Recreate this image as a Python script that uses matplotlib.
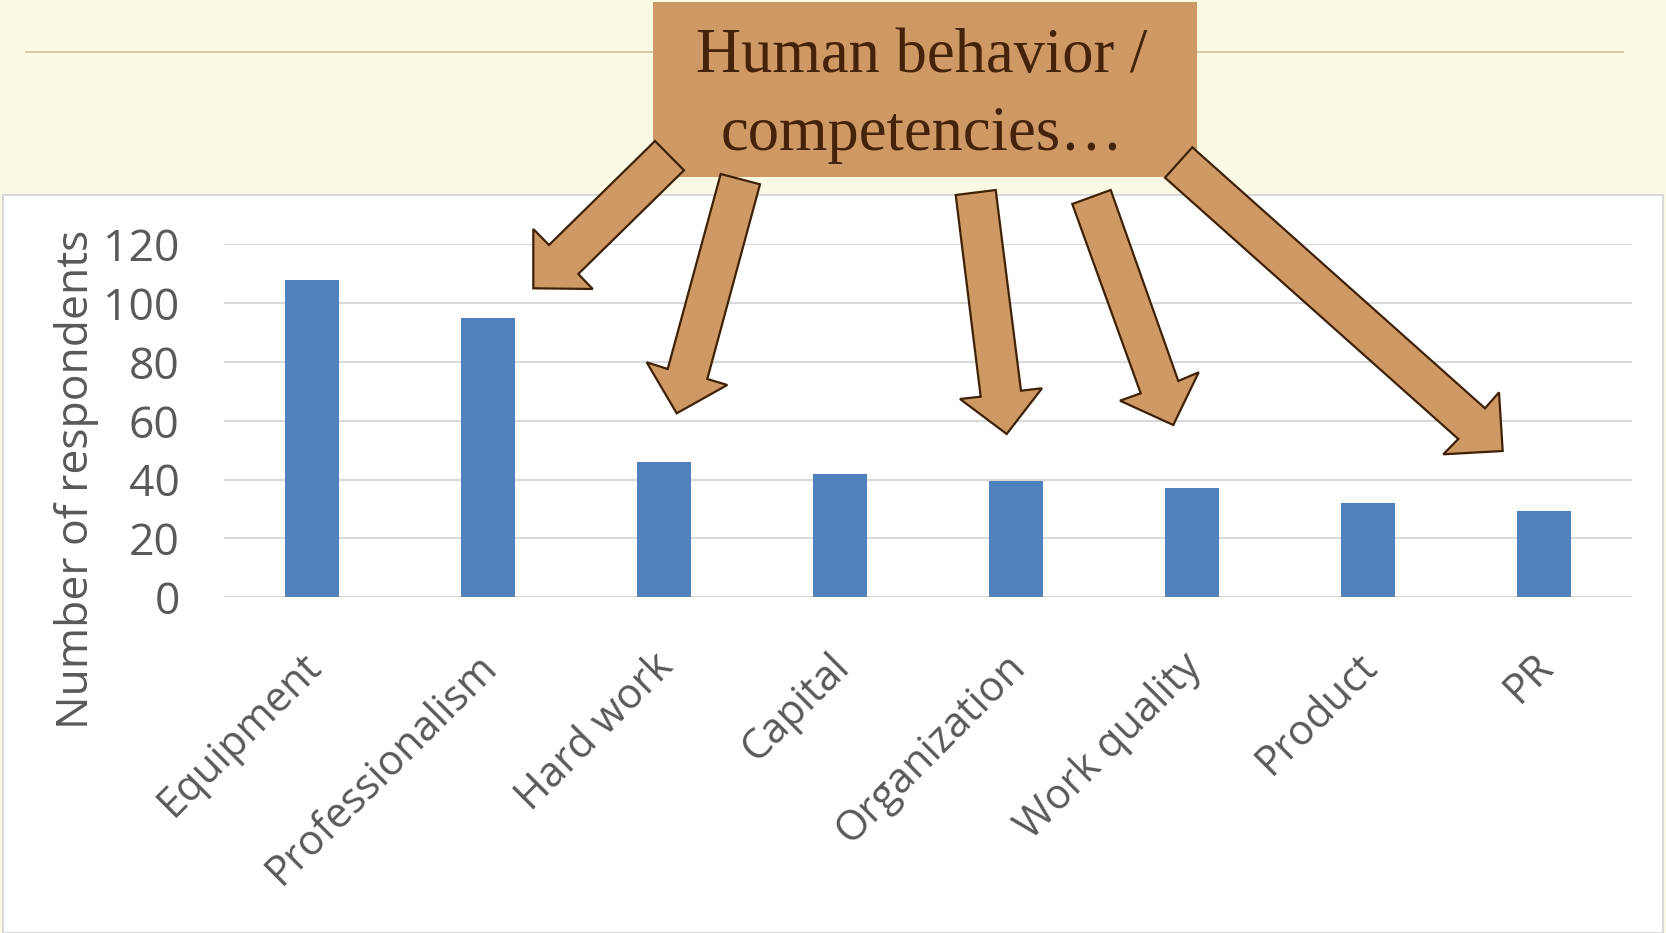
import numpy as np
import matplotlib
matplotlib.use("Agg")
import matplotlib.pyplot as plt
from matplotlib.patches import Polygon, Rectangle
from matplotlib.transforms import ScaledTranslation

categories = ["Equipment", "Professionalism", "Hard work", "Capital",
              "Organization", "Work quality", "Product", "PR"]
respondents = [108, 95, 46, 42, 39.5, 37, 32, 29.5]
y_ticks = [0, 20, 40, 60, 80, 100, 120]
y_label = "Number of respondents"
callout_lines = ["Human behavior /", "competencies\u2026"]

W, H = 1666, 933
DPI = 100
plt.rcParams['font.family'] = ['Open Sans', 'DejaVu Sans']

fig = plt.figure(figsize=(W / DPI, H / DPI), dpi=DPI)
fig.patch.set_facecolor('#FBFAE4')


def px(pts):
    a = np.asarray(pts, dtype=float)
    return np.column_stack([a[:, 0] / W, 1 - a[:, 1] / H])


# white chart area
fig.add_artist(Rectangle((3 / W, 0), (1663 - 3) / W, 1 - 195 / H,
                         transform=fig.transFigure, facecolor='white',
                         edgecolor='#D9D9D9', linewidth=1.5, zorder=-2))
# thin rule in the slide header
fig.add_artist(plt.Line2D([26 / W, 1623 / W], [1 - 51.7 / H] * 2,
                          transform=fig.transFigure, color='#D3C4A4',
                          linewidth=1.3, zorder=-1))

ax = fig.add_axes([224.1 / W, 1 - 597.3 / H, 1408 / W, 353 / H])
ax.set_facecolor('none')
x = np.arange(len(categories))
ax.bar(x, respondents, width=0.31, color='#4F81BD', zorder=2)
ax.set_xlim(-0.5, len(categories) - 0.5)
ax.set_ylim(0, 120)
ax.set_yticks(y_ticks)
ax.yaxis.grid(True, color='#D9D9D9', linewidth=1.5, zorder=0)
ax.set_axisbelow(True)
for s in ax.spines.values():
    s.set_visible(False)
ax.tick_params(axis='both', length=0, colors='#595959')
ax.tick_params(axis='y', pad=32, labelsize=32)
ax.tick_params(axis='x', pad=0, labelsize=30)
ax.set_xticks(x)
ax.set_xticklabels(categories, rotation=45, ha='right', va='center',
                   rotation_mode='anchor')
off = ScaledTranslation(0.03, -0.63, fig.dpi_scale_trans)
for lab in ax.get_xticklabels():
    lab.set_transform(lab.get_transform() + off)
ax.set_ylabel(y_label, fontsize=32, color='#595959')
ax.yaxis.set_label_coords(-0.089, 0.335)

# callout box
fig.add_artist(Rectangle((652.6 / W, 1 - 176.7 / H), (1197 - 652.6) / W,
                         (176.7 - 2) / H, transform=fig.transFigure,
                         facecolor='#CF9965', edgecolor='none', zorder=4))

arrows = [
    [(655, 141), (684, 170.3), (578.3, 274), (592.7, 289), (533.3, 288.3),
     (533.3, 229), (549, 245)],
    [(720.7, 174), (760, 184.3), (707.3, 379), (727.3, 385), (676.7, 413.3),
     (646.7, 362.3), (667.7, 369)],
    [(955.7, 195), (995.7, 190), (1021, 390.7), (1042, 388.3), (1006.7, 434),
     (960, 399), (980.7, 396.7)],
    [(1072.3, 204), (1110.7, 190), (1178.3, 381), (1198.7, 372.3),
     (1173.3, 425), (1120, 400.7), (1140.7, 393.3)],
    [(1192.3, 147.3), (1165, 177.7), (1458.3, 439), (1443.3, 454.3),
     (1502.7, 451), (1499, 392.3), (1485, 408.3)],
]
for poly in arrows:
    fig.add_artist(Polygon(px(poly), closed=True, transform=fig.transFigure,
                           facecolor='#CF9965', edgecolor='#3F2106',
                           linewidth=1.6, joinstyle='miter', zorder=5))

for line, base in zip(callout_lines, [71.7, 150]):
    fig.text(922 / W, 1 - base / H, line, ha='center', va='baseline',
             fontsize=45, color='#45230A', family=['Liberation Serif'],
             zorder=6)

fig.savefig('out.png', dpi=DPI, facecolor=fig.get_facecolor())
